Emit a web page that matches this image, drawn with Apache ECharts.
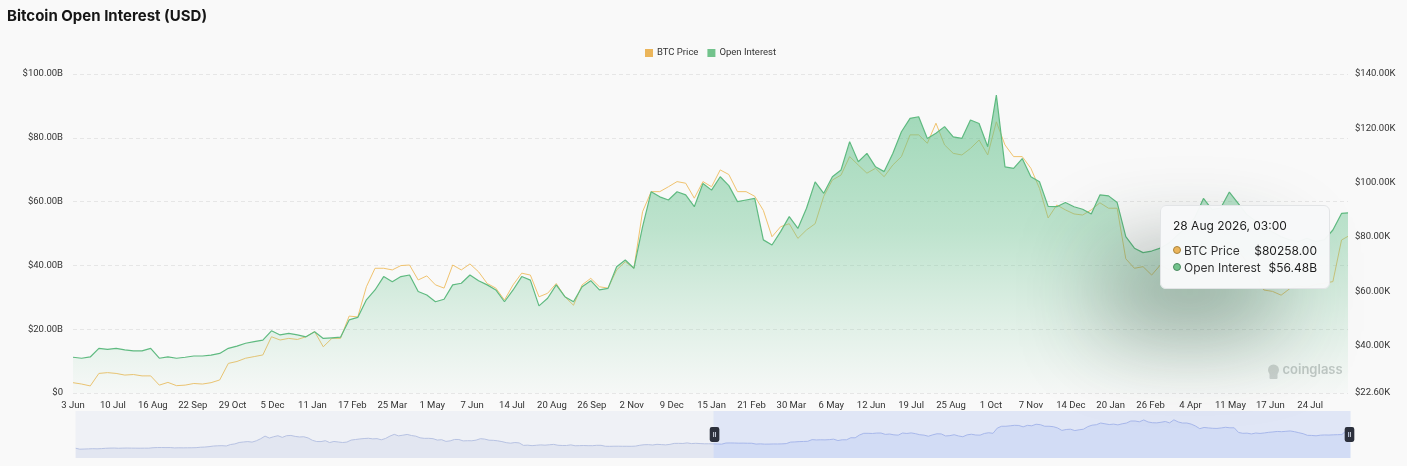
<!DOCTYPE html>
<html>
<head>
<meta charset="utf-8">
<script src="https://cdn.jsdelivr.net/npm/echarts@6/dist/echarts.min.js"></script>
<style>
  html, body { margin: 0; padding: 0; background: #f9f9f9; }
  #chart { width: 1407px; height: 466px; }
</style>
</head>
<body>
<div id="chart"></div>
<script>
// ---------- data ----------
const chartTitle = 'Bitcoin Open Interest (USD)';
const seriesNames = ['BTC Price', 'Open Interest'];
const monthNames = ['Jan','Feb','Mar','Apr','May','Jun','Jul','Aug','Sep','Oct','Nov','Dec'];
const firstDayUTC = [2020, 2, 6];      // 6 Mar 2020 (first daily category)
const totalDays = 2367;                 // daily categories up to 28 Aug 2026
const viewStartIndex = 1184;            // 3 Jun 2023
const sampleStep = 8;                   // one reading every 8 days
const labelEvery = 37;                  // x labels every 37 days
const sampleTime = '03:00';

// BTC price (thousands USD), 6 Mar 2020 .. 26 May 2023, every 8 days (seen in the zoom slider)
const btcPriceEarlyK = [
  9.1, 5.2, 5.8, 6.4, 7.2, 6.6, 7.5, 8.8, 9.5, 9.7, 8.9, 9.5, 9.8, 9.4, 9.2, 9.1, 9.3, 9.2, 11.0, 11.7,
  11.8, 11.5, 11.7, 10.3, 10.8, 10.5, 10.8, 10.9, 11.3, 13.0, 13.7, 15.3, 17.7, 18.7, 19.2, 18.0, 23.8, 26.3, 31.9, 34.0,
  35.5, 33.4, 38.9, 47.0, 57.5, 49.6, 54.9, 58.9, 52.3, 59.0, 60.0, 56.2, 54.0, 54.8, 50.0, 40.6, 35.7, 35.5, 39.1, 31.7,
  36.0, 33.9, 31.8, 33.6, 41.5, 43.8, 46.0, 47.7, 48.8, 46.4, 47.3, 42.7, 48.2, 57.4, 64.3, 58.4, 61.0, 64.1, 59.7, 57.2,
  50.6, 48.4, 48.6, 47.1, 41.6, 43.1, 36.3, 38.5, 44.0, 43.9, 38.3, 39.1, 38.8, 41.3, 47.1, 45.5, 41.1, 40.5, 38.6, 35.5,
  31.3, 29.1, 31.8, 30.2, 20.4, 21.2, 19.3, 20.8, 22.4, 21.2, 22.8, 24.4, 20.8, 20.0, 20.0, 22.4, 18.9, 19.4, 19.9, 19.2,
  19.2, 20.6, 20.6, 16.9, 16.6, 17.0, 17.1, 16.8, 16.8, 16.7, 17.4, 20.8, 23.0, 23.4, 21.8, 24.6, 23.5, 22.4, 24.4, 28.3,
  28.5, 28.0, 30.3, 27.5, 28.7, 27.6, 26.8, 26.8
];

// BTC price (thousands USD), 3 Jun 2023 .. 28 Aug 2026, every 8 days, last = 28 Aug 2026
const btcPriceK = [
  26.4, 25.9, 25.2, 29.8, 30.1, 29.8, 29.2, 29.4, 28.9, 28.9, 25.5, 26.5, 25.3, 25.5, 26.1, 25.9, 26.4, 27.4, 33.5, 34.2,
  35.4, 36.0, 36.6, 43.3, 42.1, 42.7, 42.3, 43.3, 45.2, 39.6, 42.7, 42.7, 50.9, 50.6, 61.7, 68.5, 68.5, 67.9, 69.5, 69.7,
  64.2, 65.7, 62.4, 61.2, 69.7, 67.9, 70.1, 67.2, 62.9, 61.2, 56.8, 62.4, 66.7, 66.0, 58.0, 59.3, 62.9, 58.0, 54.9, 62.4,
  64.8, 61.7, 61.2, 67.9, 70.9, 68.5, 89.3, 96.7, 96.7, 98.5, 100.4, 99.8, 94.3, 100.4, 98.5, 104.7, 103.0, 96.7, 96.7, 95.0,
  89.8, 80.1, 83.8, 84.9, 79.5, 82.6, 84.9, 95.0, 101.0, 102.8, 109.6, 106.5, 103.5, 105.3, 102.2, 106.5, 109.6, 117.6, 117.6, 114.5,
  121.9, 113.9, 110.8, 110.2, 112.6, 115.7, 110.2, 122.4, 113.9, 109.6, 109.6, 105.3, 97.9, 87.0, 91.8, 90.0, 88.5, 88.1, 90.0, 92.6,
  90.6, 90.6, 72.0, 68.5, 69.1, 66.0, 69.7, 68.0, 70.0, 72.5, 74.0, 76.0, 75.0, 76.5, 78.0, 75.0, 71.0, 67.0, 60.5, 60.0,
  58.6, 61.0, 62.0, 61.5, 62.5, 63.0, 63.6, 78.9, 80.258
];

// Open interest (billions USD), same dates as btcPriceK
const openInterestB = [
  11.2, 10.9, 11.3, 14.0, 13.7, 14.0, 13.5, 13.2, 13.2, 14.0, 10.9, 11.3, 10.9, 11.2, 11.6, 11.6, 11.9, 12.4, 14.0, 14.7,
  15.6, 16.1, 16.6, 19.5, 18.2, 18.7, 18.2, 17.6, 19.2, 17.1, 17.3, 17.5, 22.9, 23.7, 29.2, 32.3, 36.5, 34.9, 36.5, 37.0,
  31.8, 30.7, 28.6, 29.4, 33.9, 34.4, 37.0, 35.2, 33.9, 32.3, 28.6, 32.3, 36.5, 35.4, 27.3, 29.7, 33.9, 30.2, 28.6, 33.3,
  35.2, 32.3, 32.8, 39.6, 41.7, 39.1, 52.1, 63.1, 61.5, 60.5, 63.1, 62.1, 58.4, 65.7, 63.6, 67.8, 65.0, 60.0, 60.5, 61.0,
  48.0, 46.4, 50.6, 55.3, 51.6, 57.9, 66.2, 62.6, 67.8, 69.9, 78.8, 72.5, 75.1, 70.9, 69.4, 75.1, 81.9, 86.1, 86.6, 79.8,
  81.4, 83.5, 80.3, 79.8, 85.6, 84.5, 77.2, 93.4, 70.9, 70.4, 73.5, 67.8, 66.2, 58.5, 58.4, 59.7, 58.4, 57.6, 56.1, 62.1,
  61.8, 59.7, 49.0, 45.4, 44.0, 44.5, 45.4, 47.0, 49.5, 52.0, 55.0, 61.0, 57.5, 58.0, 63.0, 59.5, 56.0, 54.0, 52.0, 50.5,
  49.0, 48.0, 47.5, 48.5, 47.5, 48.0, 51.1, 56.3, 56.48
];

const oiAxisB = { min: 0, max: 100, interval: 20 };
const priceAxisK = { min: 22.6, max: 140 };
const priceTickLabelsK = [22.6, 40, 60, 80, 100, 120, 140];

// ---------- build ----------
const DAY = 86400000;
const t0 = Date.UTC(firstDayUTC[0], firstDayUTC[1], firstDayUTC[2]);
const pad = n => (n < 10 ? '0' + n : '' + n);
const categories = [];
for (let i = 0; i < totalDays; i++) {
  const d = new Date(t0 + i * DAY);
  categories.push(d.getUTCFullYear() + '-' + pad(d.getUTCMonth() + 1) + '-' + pad(d.getUTCDate()));
}
const parseCat = s => new Date(s + 'T00:00:00Z');

function visibleIndex(i, len) {
  return i === len - 1 ? totalDays - 1 : viewStartIndex + i * sampleStep;
}
const btcData = btcPriceEarlyK.map((v, i) => [i * sampleStep, v])
  .concat(btcPriceK.map((v, i) => [visibleIndex(i, btcPriceK.length), v]));
const oiData = openInterestB.map((v, i) => [visibleIndex(i, openInterestB.length), v]);

const labelFont = 'Roboto, "Noto Sans", sans-serif';
const orange = '#ebb55a', orangeLine = '#f0c36f';
const green = '#72c38c', greenLine = '#5fba80';

const chart = echarts.init(document.getElementById('chart'), null, { renderer: 'canvas' });
chart.setOption({
  animation: false,
  backgroundColor: '#f9f9f9',
  title: {
    text: chartTitle, left: 7, top: 9, padding: 0,
    textStyle: { fontFamily: 'Inter, sans-serif', fontSize: 15, fontWeight: 700, color: '#161616' }
  },
  legend: {
    data: seriesNames, left: 640, top: 43, itemWidth: 8, itemHeight: 8, itemGap: 9,
    icon: 'rect',
    textStyle: { fontFamily: labelFont, fontSize: 9.5, color: '#333', padding: [0, 0, 0, -1] }
  },
  grid: { left: 73, right: 59, top: 74, bottom: 73, outerBoundsMode: 'none' },
  tooltip: {
    trigger: 'axis',
    axisPointer: { type: 'none' },
    alwaysShowContent: true,
    transitionDuration: 0,
    position: () => [1160, 205],
    backgroundColor: 'rgba(247,248,249,0.97)',
    borderColor: '#e2e4e6', borderWidth: 1, padding: [12, 12, 12, 12],
    extraCssText: 'border-radius:6px; box-shadow:-55px 45px 85px rgba(30,55,42,0.38); width:144px;',
    formatter: params => {
      const p = Array.isArray(params) ? params : [params];
      const d = parseCat(p[0].axisValue);
      const head = d.getUTCDate() + ' ' + monthNames[d.getUTCMonth()] + ' ' + d.getUTCFullYear() + ', ' + sampleTime;
      let html = '<div style="font-family:Inter,sans-serif;font-size:12px;color:#1d1d1d;line-height:16px;margin-bottom:8px">' + head + '</div>';
      p.forEach(it => {
        const v = it.value[1];
        const txt = it.seriesName === seriesNames[0] ? '$' + (v * 1000).toFixed(2) : '$' + v.toFixed(2) + 'B';
        const c = it.seriesName === seriesNames[0] ? orange : green;
        const bc = it.seriesName === seriesNames[0] ? '#a9843c' : '#4b8a60';
        html += '<div style="display:flex;justify-content:space-between;font-family:Inter,sans-serif;font-size:12px;line-height:17px;color:#333">' +
          '<span><span style="display:inline-block;width:6px;height:6px;border-radius:50%;background:' + c + ';border:1px solid ' + bc + ';margin-right:3px;vertical-align:1px"></span>' + it.seriesName + '</span>' +
          '<span style="color:#1d1d1d">' + txt + '</span></div>';
      });
      return html;
    }
  },
  xAxis: {
    type: 'category', data: categories, boundaryGap: false,
    axisLine: { show: false }, axisTick: { show: false },
    axisLabel: {
      interval: labelEvery - 1, margin: 8, fontFamily: labelFont, fontSize: 9.5, color: '#333',
      formatter: s => { const d = parseCat(s); return d.getUTCDate() + ' ' + monthNames[d.getUTCMonth()]; }
    },
    splitLine: { show: false }
  },
  yAxis: [
    {
      type: 'value', min: oiAxisB.min, max: oiAxisB.max, interval: oiAxisB.interval,
      axisLine: { show: false }, axisTick: { show: false },
      axisLabel: { margin: 10, fontFamily: labelFont, fontSize: 9.5, color: '#333',
        formatter: v => (v === 0 ? '$0' : '$' + v.toFixed(2) + 'B') },
      splitLine: { show: true, lineStyle: { color: '#e6e6e6', type: [4, 3], width: 1 } }
    },
    {
      type: 'value', min: priceAxisK.min, max: priceAxisK.max,
      position: 'right',
      axisLine: { show: false }, axisTick: { show: false },
      axisLabel: { margin: 7, fontFamily: labelFont, fontSize: 9.5, color: '#333',
        customValues: priceTickLabelsK,
        formatter: v => '$' + v.toFixed(2) + 'K' },
      splitLine: { show: false }
    }
  ],
  dataZoom: [
    {
      type: 'slider', xAxisIndex: 0, startValue: viewStartIndex, endValue: totalDays - 1,
      left: 73, right: 59, top: 411, height: 47,
      backgroundColor: '#eff1f6', borderColor: 'transparent',
      fillerColor: 'rgba(190,204,245,0.30)',
      dataBackground: { lineStyle: { color: '#b7c2e2', width: 1 }, areaStyle: { color: '#e2e6f1', opacity: 1 } },
      selectedDataBackground: { lineStyle: { color: '#9eaee6', width: 1 }, areaStyle: { color: '#d9e0f5', opacity: 0.9 } },
      handleIcon: 'path://M2,0 h5 a2,2 0 0 1 2,2 v10 a2,2 0 0 1 -2,2 h-5 a2,2 0 0 1 -2,-2 v-10 a2,2 0 0 1 2,-2 z M3.3,4.6 v4.8 h0.8 v-4.8 z M4.9,4.6 v4.8 h0.8 v-4.8 z',
      handleSize: 15,
      handleStyle: { color: '#2c303c', borderWidth: 0 },
      moveHandleSize: 0,
      moveHandleStyle: { opacity: 0 },
      showDetail: false, brushSelect: false,
      emphasis: { handleStyle: { color: '#2c303c', borderWidth: 0 } }
    }
  ],
  series: [
    {
      name: seriesNames[0], type: 'line', yAxisIndex: 1, data: btcData,
      symbol: 'none', smooth: false,
      itemStyle: { color: orange },
      lineStyle: { color: orangeLine, width: 1 },
      emphasis: { disabled: true },
      z: 2
    },
    {
      name: seriesNames[1], type: 'line', yAxisIndex: 0, data: oiData,
      symbol: 'none', smooth: false,
      itemStyle: { color: green },
      lineStyle: { color: greenLine, width: 1.2 },
      areaStyle: {
        color: new echarts.graphic.LinearGradient(0, 0, 0, 1, [
          { offset: 0, color: 'rgba(96,192,138,0.86)' },
          { offset: 0.45, color: 'rgba(106,196,144,0.6)' },
          { offset: 1, color: 'rgba(130,205,160,0.04)' }
        ])
      },
      emphasis: { disabled: true },
      z: 3
    }
  ],
  graphic: [
    {
      type: 'group', left: 1268, top: 364, z: 10, silent: true,
      children: [
        { type: 'circle', shape: { cx: 7, cy: 6, r: 5.5 }, style: { fill: '#cfd1d1' } },
        { type: 'rect', shape: { x: 3, y: 9, width: 8, height: 6, r: 1 }, style: { fill: '#cfd1d1' } },
        { type: 'text', x: 16, y: 0, style: { text: 'coinglass', fontFamily: 'Inter, sans-serif', fontSize: 13, fontWeight: 600, fill: '#c4c7c7' } }
      ]
    }
  ]
});

function showTip() {
  chart.dispatchAction({ type: 'showTip', seriesIndex: 1, dataIndex: oiData.length - 1 });
}
showTip();
setTimeout(showTip, 50);
</script>
</body>
</html>
